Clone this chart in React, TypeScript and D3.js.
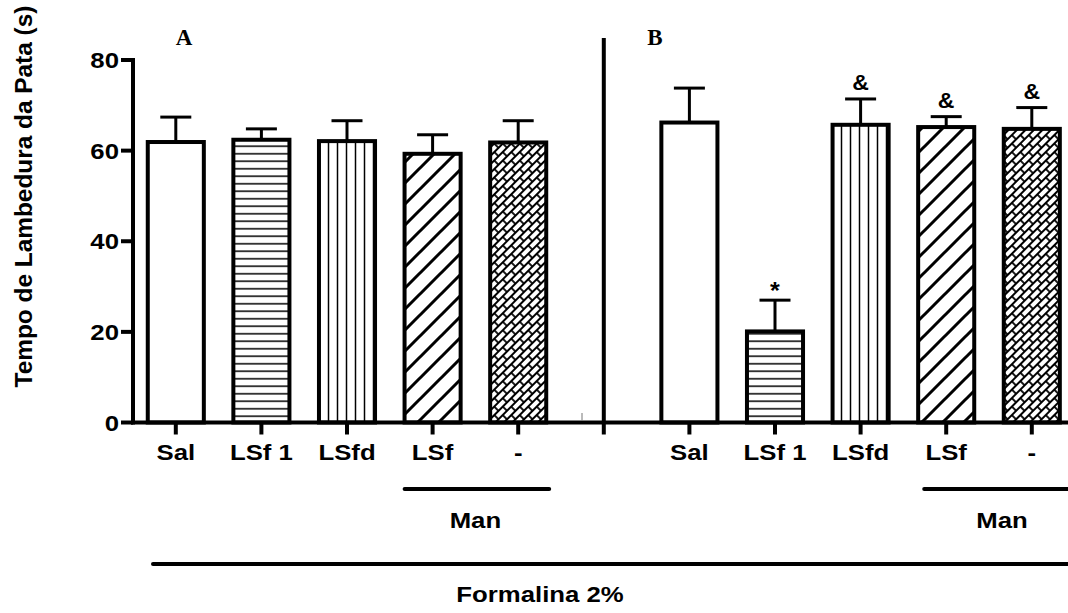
import React from "react";
import * as d3 from "d3";

const categoriesA = ["Sal", "LSf 1", "LSfd", "LSf", "-"];
const categoriesB = ["Sal", "LSf 1", "LSfd", "LSf", "-"];
const meansA = [61.9, 62.4, 62.1, 59.3, 61.8];
const semA = [5.5, 2.4, 4.5, 4.2, 4.8];
const meansB = [66.2, 20.1, 65.7, 65.2, 64.8];
const semB = [7.6, 6.9, 5.7, 2.3, 4.7];
const marksB = ["", "*", "&", "&", "&"];
const patternsList = ["none", "hlines", "vlines", "diag", "brick"];
const yTicks = [0, 20, 40, 60, 80];
const yTitle = "Tempo de Lambedura da Pata (s)";
const groupLabel = "Man";
const bottomLabel = "Formalina 2%";

const W = 1068;
const H = 613;
const FONT = "'Liberation Sans', Arial, Helvetica, sans-serif";

export default function App() {
  const keys = [
    ...categoriesA.map((c, i) => `A${i}`),
    "sep",
    ...categoriesB.map((c, i) => `B${i}`),
  ];
  const x = d3.scalePoint<string>().domain(keys).range([133, 1074.6]).padding(0.5);
  const y = d3.scaleLinear().domain([0, 80]).range([422.5, 60]);
  const step = x.step();
  const barW = step * 0.655;
  const capW = 31;

  const bars = [
    ...categoriesA.map((c, i) => ({ key: `A${i}`, label: c, mean: meansA[i], sem: semA[i], pat: patternsList[i], mark: "" })),
    ...categoriesB.map((c, i) => ({ key: `B${i}`, label: c, mean: meansB[i], sem: semB[i], pat: patternsList[i], mark: marksB[i] })),
  ];

  const y0 = y(0);
  const sepX = x("sep")!;

  const txt = (s: string, tx: number, ty: number, sx = 1.12, size = 23, anchor: any = "middle") => (
    <text
      transform={`translate(${tx},${ty}) scale(${sx},1)`}
      textAnchor={anchor}
      fontFamily={FONT}
      fontWeight="bold"
      fontSize={size}
      fill="#000"
    >
      {s}
    </text>
  );

  return (
    <div style={{ position: "absolute", left: 0, top: 0 }}>
      <svg width={W} height={H} viewBox={`0 0 ${W} ${H}`} style={{ display: "block", background: "#fff" }}>
        <defs>
          <pattern id="hlines" patternUnits="userSpaceOnUse" width={8} height={7.5}>
            <rect width={8} height={7.5} fill="#fff" />
            <line x1={0} x2={8} y1={3.75} y2={3.75} stroke="#000" strokeWidth={1.5} />
          </pattern>
          <pattern id="vlines" patternUnits="userSpaceOnUse" width={9} height={10}>
            <rect width={9} height={10} fill="#fff" />
            <line x1={4.5} x2={4.5} y1={0} y2={10} stroke="#000" strokeWidth={1.5} />
          </pattern>
          <pattern id="diag" patternUnits="userSpaceOnUse" width={21} height={21}>
            <rect width={21} height={21} fill="#fff" />
            <path d="M0,21 L21,0 M-3,3 L3,-3 M18,24 L24,18" stroke="#000" strokeWidth={3} />
          </pattern>
          <pattern id="brick" patternUnits="userSpaceOnUse" width={12} height={12} patternTransform="rotate(-45)">
            <rect width={12} height={12} fill="#fff" />
            <path d="M0,1 H12 M0,7 H12 M2,1 V7 M8,7 V13" stroke="#000" strokeWidth={1.8} fill="none" />
          </pattern>
        </defs>

        {/* bars */}
        {bars.map((b) => {
          const cx = x(b.key)!;
          const top = y(b.mean);
          const errTop = y(b.mean + b.sem);
          return (
            <g key={b.key}>
              <line x1={cx} x2={cx} y1={top} y2={errTop} stroke="#000" strokeWidth={3} />
              <line x1={cx - capW / 2} x2={cx + capW / 2} y1={errTop} y2={errTop} stroke="#000" strokeWidth={3} />
              <rect
                x={cx - barW / 2}
                y={top}
                width={barW}
                height={y0 - top}
                fill={b.pat === "none" ? "#fff" : `url(#${b.pat})`}
                stroke="#000"
                strokeWidth={4}
              />
              {b.mark &&
                txt(b.mark, cx, errTop - (b.mark === "*" ? 1 : 9), 1.05, b.mark === "*" ? 24 : 22)}
            </g>
          );
        })}

        {/* y axis */}
        <line x1={133} x2={133} y1={y(80) - 2} y2={y0 + 2} stroke="#000" strokeWidth={4} />
        {yTicks.map((t) => (
          <g key={t}>
            <line x1={121} x2={133} y1={y(t)} y2={y(t)} stroke="#000" strokeWidth={4} />
            {txt(String(t), 119, y(t) + 8, 1.12, 23, "end")}
          </g>
        ))}
        <text
          transform={`translate(32,196.5) rotate(-90)`}
          textAnchor="middle"
          fontFamily={FONT}
          fontWeight="bold"
          fontSize={24.4}
        >
          {yTitle}
        </text>

        {/* x axis */}
        <line x1={131} x2={W} y1={y0} y2={y0} stroke="#000" strokeWidth={4} />
        {keys.map((k) => (
          <line key={k} x1={x(k)!} x2={x(k)!} y1={y0} y2={y0 + 12} stroke="#000" strokeWidth={4} />
        ))}
        {/* separator */}
        <line x1={sepX} x2={sepX} y1={38} y2={y0} stroke="#000" strokeWidth={4} />
        <line x1={582} x2={582} y1={413} y2={421} stroke="#777" strokeWidth={1} />

        {bars.map((b) => (
          <g key={`l${b.key}`}>{txt(b.label, x(b.key)!, 460)}</g>
        ))}

        {/* panel letters */}
        <text x={184} y={45} textAnchor="middle" fontFamily="'Liberation Serif', 'Times New Roman', serif" fontWeight="bold" fontSize={23}>A</text>
        <text x={655} y={45} textAnchor="middle" fontFamily="'Liberation Serif', 'Times New Roman', serif" fontWeight="bold" fontSize={23}>B</text>

        {/* Man groups */}
        <line x1={x("A3")! - 28} x2={x("A4")! + 31} y1={489} y2={489} stroke="#000" strokeWidth={4} strokeLinecap="round" />
        {txt(groupLabel, (x("A3")! + x("A4")!) / 2, 528)}
        <line x1={x("B3")! - 22} x2={W} y1={489} y2={489} stroke="#000" strokeWidth={4} strokeLinecap="round" />
        {txt(groupLabel, 1002, 528)}

        {/* Formalina */}
        <line x1={153} x2={W} y1={564} y2={564} stroke="#000" strokeWidth={4} strokeLinecap="round" />
        {txt(bottomLabel, 540, 602)}
      </svg>
    </div>
  );
}
